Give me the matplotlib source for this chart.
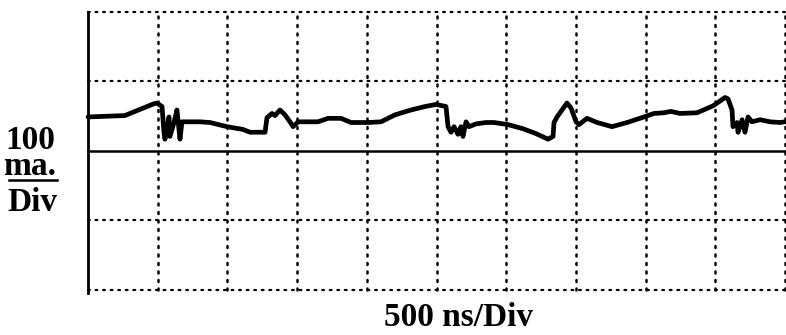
import matplotlib
matplotlib.use("Agg")
import matplotlib.pyplot as plt
from matplotlib.lines import Line2D

# Time (ns) and current (mA)
time_ns = [0, 265, 301, 387, 473, 495, 531, 545, 552, 581, 588, 617, 638, 660, 674,
           746, 803, 875, 997, 1112, 1162, 1270, 1284, 1320, 1342, 1377, 1413, 1449,
           1471, 1507, 1571, 1650, 1722, 1815, 1887, 2009, 2102, 2202, 2317, 2418,
           2497, 2568, 2583, 2604, 2626, 2654, 2676, 2690, 2712, 2733, 2784, 2855,
           2913, 3013, 3121, 3214, 3300, 3336, 3343, 3365, 3400, 3436, 3465, 3501,
           3522, 3580, 3652, 3759, 3867, 3989, 4060, 4132, 4182, 4247, 4369, 4484,
           4570, 4591, 4620, 4627, 4656, 4663, 4692, 4713, 4735, 4763, 4821, 4893,
           4964, 5000]
current_ma = [49, 51, 54, 61, 68, 69, 64, 27, 17, 49, 21, 41, 59, 17, 42,
              42, 42, 41, 35, 31, 27, 27, 48, 54, 51, 59, 52, 42,
              35, 42, 42, 42, 47, 47, 41, 41, 42, 52, 59, 64,
              67, 64, 35, 27, 35, 24, 35, 21, 42, 35, 39, 41,
              41, 38, 32, 25, 17, 21, 41, 49, 59, 69, 62, 42,
              38, 47, 41, 35, 41, 49, 54, 55, 57, 54, 55, 65,
              77, 75, 59, 35, 41, 27, 45, 27, 49, 42, 45, 42,
              41, 42]

x_div = [0, 500, 1000, 1500, 2000, 2500, 3000, 3500, 4000, 4500, 5000]
y_div = [-200, -100, 0, 100, 200]

W, H = 786, 335
fig = plt.figure(figsize=(W / 100, H / 100), dpi=100)
left, right, top, bottom = 88, 785, 12, 290
ax = fig.add_axes([left / W, 1 - bottom / H, (right - left) / W, (bottom - top) / H])
ax.set_xlim(x_div[0], x_div[-1])
ax.set_ylim(y_div[0], y_div[-1])
for s in ax.spines.values():
    s.set_visible(False)
ax.set_xticks([])
ax.set_yticks([])

dot = (0, (0.8, 2.6))
for xv in x_div[1:]:
    ax.axvline(xv, color="black", lw=1.8, ls=dot, dash_capstyle="round", clip_on=False)
for yv in y_div:
    if yv == 0:
        ax.axhline(yv, color="black", lw=1.8, clip_on=False)
    else:
        ax.axhline(yv, color="black", lw=1.6, ls=dot, dash_capstyle="round", clip_on=False)
ax.plot([x_div[0], x_div[0]], [y_div[0] - 5, y_div[-1]], color="black", lw=2.0,
        clip_on=False)

ax.plot(time_ns, current_ma, color="black", lw=3.4, solid_joinstyle="round",
        solid_capstyle="round", clip_on=False)

serif = ["Liberation Serif", "DejaVu Serif"]
fig.text(30 / W, 1 - 175 / H, "100\nma.", family=serif, fontsize=24, weight="bold",
         ha="center", va="baseline", multialignment="center", linespacing=0.8)
fig.add_artist(Line2D([9 / W, 57 / W], [1 - 180 / H, 1 - 180 / H], color="black", lw=1.8,
                      transform=fig.transFigure))
fig.text(32 / W, 1 - 211 / H, "Div", family=serif, fontsize=24, weight="bold",
         ha="center", va="baseline")
fig.text(459 / W, 1 - 326 / H, "500 ns/Div", family=serif, fontsize=24, weight="bold",
         ha="center", va="baseline")

fig.savefig("out.png", dpi=100)
